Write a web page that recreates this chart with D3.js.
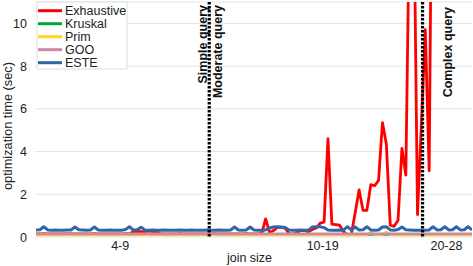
<!DOCTYPE html>
<html>
<head>
<meta charset="utf-8">
<script src="https://cdn.jsdelivr.net/npm/d3@7"></script>
<style>
    body { margin: 0; background: #fff; }
    text { font-family: "Liberation Sans", Arial, sans-serif; fill: #222; }
</style>
</head>
<body>
<div id="chart"></div>
<script>
// ---- data (query index 0..112, optimization time in seconds) ----
const seriesNames = ["Exhaustive", "Kruskal", "Prim", "GOO", "ESTE"];
const seriesColors = ["#ff0000", "#00a933", "#ffd320", "#cc8aab", "#2e67a8"];

const exhaustive = [
    0.15, 0.15, 0.16, 0.15, 0.15, 0.14, 0.15, 0.15, 0.16, 0.15,
    0.15, 0.15, 0.14, 0.15, 0.15, 0.16, 0.15, 0.15, 0.15, 0.14,
    0.15, 0.15, 0.15, 0.16, 0.15, 0.25, 0.26, 0.25, 0.25, 0.27,
    0.25, 0.25, 0.15, 0.15, 0.14, 0.15, 0.15, 0.16, 0.15, 0.15,
    0.15, 0.14, 0.15, 0.15, 0.15, 0.15, 0.16, 0.15, 0.15, 0.15,
    0.14, 0.15, 0.15, 0.15, 0.16, 0.15, 0.15, 0.15, 0.18, 0.85,
    0.2, 0.3, 0.45, 0.45, 0.42, 0.15, 0.15, 0.2, 0.3, 0.3,
    0.25, 0.35, 0.42, 0.65, 0.7, 4.6, 0.6, 0.58, 0.55, 0.25,
    0.1, 0.12, 1.15, 2.2, 1.25, 1.25, 2.45, 2.4, 2.65, 5.35,
    4.35, 0.55, 0.5, 0.78, 4.15, 2.9, 16, 17, 1.05, 5.3,
    9.7, 3.1, 25, 40, 60, 35, 80, 120, 90, 150,
    200, 180, 250
];

const kruskal = [
    0.12, 0.12, 0.12, 0.11, 0.12, 0.12, 0.12, 0.12, 0.11, 0.12,
    0.12, 0.12, 0.12, 0.12, 0.11, 0.12, 0.12, 0.12, 0.12, 0.12,
    0.12, 0.11, 0.12, 0.12, 0.12, 0.12, 0.12, 0.12, 0.11, 0.12,
    0.12, 0.12, 0.12, 0.12, 0.12, 0.11, 0.12, 0.12, 0.12, 0.12,
    0.12, 0.12, 0.12, 0.11, 0.12, 0.12, 0.12, 0.12, 0.12, 0.12,
    0.12, 0.12, 0.11, 0.12, 0.12, 0.12, 0.12, 0.12, 0.12, 0.12,
    0.12, 0.12, 0.12, 0.12, 0.11, 0.12, 0.12, 0.12, 0.12, 0.12,
    0.12, 0.12, 0.12, 0.12, 0.12, 0.12, 0.12, 0.11, 0.12, 0.12,
    0.12, 0.12, 0.12, 0.12, 0.12, 0.12, 0.12, 0.12, 0.12, 0.12,
    0.12, 0.12, 0.12, 0.12, 0.12, 0.12, 0.12, 0.12, 0.12, 0.12,
    0.12, 0.12, 0.12, 0.12, 0.12, 0.12, 0.12, 0.12, 0.12, 0.12,
    0.12, 0.12, 0.12
];

const prim = [
    0.1, 0.1, 0.1, 0.1, 0.1, 0.1, 0.1, 0.1, 0.1, 0.1,
    0.1, 0.1, 0.1, 0.1, 0.1, 0.1, 0.1, 0.1, 0.1, 0.1,
    0.1, 0.1, 0.1, 0.1, 0.1, 0.1, 0.1, 0.1, 0.1, 0.1,
    0.1, 0.1, 0.1, 0.1, 0.1, 0.1, 0.1, 0.1, 0.1, 0.1,
    0.1, 0.1, 0.1, 0.1, 0.1, 0.1, 0.1, 0.1, 0.1, 0.1,
    0.1, 0.1, 0.1, 0.1, 0.1, 0.1, 0.1, 0.1, 0.1, 0.1,
    0.1, 0.1, 0.1, 0.1, 0.1, 0.1, 0.1, 0.1, 0.1, 0.1,
    0.1, 0.1, 0.1, 0.1, 0.1, 0.1, 0.1, 0.1, 0.1, 0.1,
    0.1, 0.1, 0.1, 0.1, 0.1, 0.12, 0.23, 0.12, 0.1, 0.12,
    0.23, 0.12, 0.1, 0.1, 0.1, 0.1, 0.1, 0.1, 0.1, 0.1,
    0.1, 0.1, 0.1, 0.1, 0.1, 0.1, 0.1, 0.1, 0.1, 0.1,
    0.1, 0.1, 0.1
];

const goo = [
    0.15, 0.15, 0.15, 0.15, 0.15, 0.15, 0.15, 0.15, 0.15, 0.15,
    0.15, 0.15, 0.15, 0.15, 0.15, 0.15, 0.15, 0.15, 0.15, 0.15,
    0.15, 0.15, 0.15, 0.15, 0.15, 0.15, 0.15, 0.15, 0.15, 0.15,
    0.15, 0.15, 0.15, 0.15, 0.15, 0.15, 0.15, 0.15, 0.15, 0.15,
    0.15, 0.15, 0.15, 0.15, 0.15, 0.15, 0.15, 0.15, 0.15, 0.15,
    0.15, 0.15, 0.15, 0.15, 0.15, 0.15, 0.15, 0.15, 0.15, 0.15,
    0.15, 0.15, 0.15, 0.15, 0.15, 0.15, 0.15, 0.15, 0.15, 0.15,
    0.15, 0.15, 0.15, 0.15, 0.15, 0.15, 0.15, 0.15, 0.15, 0.15,
    0.15, 0.15, 0.15, 0.15, 0.15, 0.15, 0.15, 0.15, 0.15, 0.15,
    0.15, 0.15, 0.15, 0.15, 0.15, 0.15, 0.15, 0.15, 0.15, 0.15,
    0.15, 0.15, 0.15, 0.15, 0.15, 0.15, 0.15, 0.15, 0.15, 0.15,
    0.15, 0.15, 0.15
];

const este = [
    0.33, 0.34, 0.48, 0.33, 0.32, 0.33, 0.32, 0.32, 0.33, 0.33,
    0.47, 0.34, 0.33, 0.32, 0.33, 0.47, 0.33, 0.32, 0.32, 0.33,
    0.32, 0.32, 0.32, 0.35, 0.48, 0.32, 0.34, 0.46, 0.32, 0.32,
    0.33, 0.32, 0.32, 0.33, 0.32, 0.32, 0.32, 0.33, 0.32, 0.32,
    0.33, 0.32, 0.32, 0.32, 0.33, 0.32, 0.32, 0.33, 0.32, 0.32,
    0.33, 0.47, 0.33, 0.32, 0.33, 0.47, 0.33, 0.32, 0.32, 0.33,
    0.42, 0.47, 0.48, 0.47, 0.44, 0.33, 0.32, 0.32, 0.33, 0.32,
    0.32, 0.47, 0.48, 0.48, 0.44, 0.33, 0.32, 0.32, 0.33, 0.32,
    0.48, 0.33, 0.47, 0.33, 0.34, 0.48, 0.33, 0.32, 0.33, 0.47,
    0.48, 0.33, 0.32, 0.35, 0.47, 0.34, 0.33, 0.32, 0.32, 0.32,
    0.32, 0.33, 0.48, 0.33, 0.34, 0.48, 0.33, 0.34, 0.48, 0.33,
    0.34, 0.48, 0.33
];

const yTicks = [0, 2, 4, 6, 8, 10];
const xTickValues = [21.5, 73.5, 105.3];
const xTickLabels = ["4-9", "10-19", "20-28"];
const dividers = [44.5, 99.3];
const dividerLabels = [
    { at: 0, text: "Simple query" },
    { at: 0, text: "Moderate query" },
    { at: 1, text: "Complex query" }
];

// ---- drawing ----
const width = 473, height = 266;
const margin = { top: 2, right: 1, bottom: 29, left: 36 };

const svg = d3.select("#chart").append("svg")
    .attr("width", width)
    .attr("height", height);

const x = d3.scaleLinear()
    .domain([0, este.length - 1])
    .range([margin.left, width - margin.right]);

const y = d3.scaleLinear()
    .domain([0, 11])
    .range([height - margin.bottom, margin.top]);

// gridlines
svg.append("g")
    .selectAll("line")
    .data(yTicks.concat([11]))
    .join("line")
    .attr("x1", 35)
    .attr("x2", x.range()[1])
    .attr("y1", d => y(d))
    .attr("y2", d => y(d))
    .style("stroke", "#e4e4e4")
    .style("stroke-width", 1);

// y axis
const yAxis = svg.append("g")
    .attr("transform", "translate(35,0)")
    .call(d3.axisLeft(y).tickValues(yTicks).tickSize(0).tickPadding(8));
yAxis.select(".domain").remove();
yAxis.selectAll("text")
    .style("font-size", "12.5px")
    .style("font-family", "Liberation Sans, Arial, sans-serif")
    .attr("fill", "#222");

// x axis
const xAxis = svg.append("g")
    .attr("transform", `translate(0,${height - margin.bottom})`)
    .call(d3.axisBottom(x)
        .tickValues(xTickValues)
        .tickFormat((d, i) => xTickLabels[i])
        .tickSize(0)
        .tickPadding(4));
xAxis.select(".domain").remove();
xAxis.selectAll("text")
    .style("font-size", "12.5px")
    .style("font-family", "Liberation Sans, Arial, sans-serif")
    .attr("fill", "#222");

// axis titles
svg.append("text")
    .attr("x", 249.5)
    .attr("y", 262)
    .attr("text-anchor", "middle")
    .style("font-size", "12.5px")
    .text("join size");

svg.append("text")
    .attr("transform", "translate(12,126) rotate(-90)")
    .attr("text-anchor", "middle")
    .style("font-size", "12.8px")
    .text("optimization time (sec)");

// clip so very large values run off the top
svg.append("clipPath")
    .attr("id", "plotClip")
    .append("rect")
    .attr("x", 35)
    .attr("y", margin.top)
    .attr("width", width - 35 - margin.right)
    .attr("height", height - margin.top - margin.bottom);

const allSeries = [exhaustive, kruskal, prim, goo, este];

const line = d3.line()
    .x((d, i) => x(i))
    .y(d => y(d));

svg.append("g")
    .attr("clip-path", "url(#plotClip)")
    .selectAll("path")
    .data(allSeries)
    .join("path")
    .attr("d", d => line(d))
    .style("fill", "none")
    .style("stroke", (d, i) => seriesColors[i])
    .style("stroke-width", (d, i) => i === 4 ? 3 : 2.8)
    .style("stroke-linejoin", "round");

// dotted separators
svg.append("g")
    .selectAll("line")
    .data(dividers)
    .join("line")
    .attr("x1", d => x(d))
    .attr("x2", d => x(d))
    .attr("y1", y(11))
    .attr("y2", y(0))
    .style("stroke", "#000")
    .style("stroke-width", 3.2)
    .style("stroke-dasharray", "2.5,1.5");

// separator labels (vertical)
const labelPos = [
    { dx: -2.5, yEnd: 5 },
    { dx: 13, yEnd: 5 },
    { dx: 29, yEnd: 7 }
];
svg.append("g")
    .selectAll("text")
    .data(dividerLabels)
    .join("text")
    .attr("transform", (d, i) => `translate(${x(dividers[d.at]) + labelPos[i].dx},${labelPos[i].yEnd}) rotate(-90)`)
    .attr("text-anchor", "end")
    .style("font-size", "12.5px")
    .style("font-weight", "bold")
    .style("fill", "#111")
    .text(d => d.text);

// legend
const legend = svg.append("g").attr("transform", "translate(37,2)");
legend.append("rect")
    .attr("width", 90)
    .attr("height", 67)
    .style("fill", "#fff")
    .style("stroke", "#ddd");

const entry = legend.selectAll(".entry")
    .data(seriesNames)
    .join("g")
    .attr("class", "entry")
    .attr("transform", (d, i) => `translate(0,${8.7 + i * 13})`);

entry.append("line")
    .attr("x1", 1)
    .attr("x2", 25)
    .style("stroke", (d, i) => seriesColors[i])
    .style("stroke-width", 3);

entry.append("text")
    .attr("x", 28)
    .attr("dy", "0.35em")
    .style("font-size", "12.5px")
    .text(d => d);
</script>
</body>
</html>
